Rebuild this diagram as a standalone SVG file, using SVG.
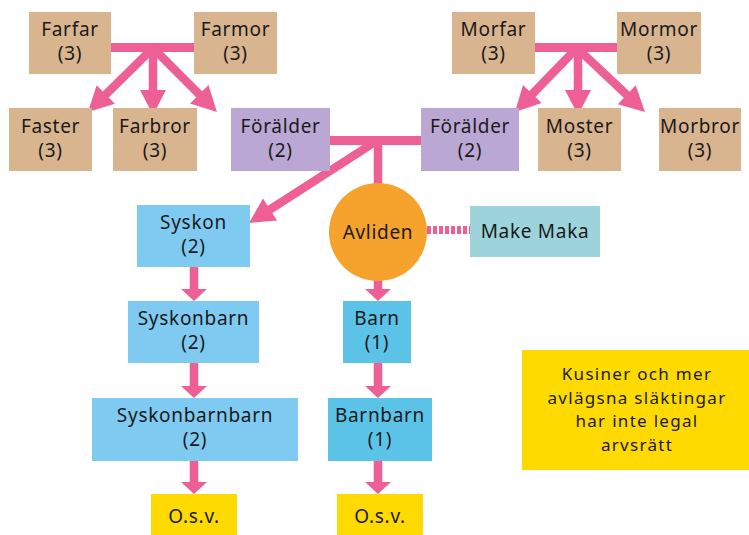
<svg xmlns="http://www.w3.org/2000/svg" width="749" height="535" viewBox="0 0 749 535">
<defs>
<style>
text{font-family:"Noto Sans","Liberation Sans",sans-serif;font-size:19px;letter-spacing:0.7px;fill:#1a1a1a;text-anchor:middle}
.note text{font-size:17px;letter-spacing:1.3px}
.tan{fill:#D8B48F}
.pur{fill:#BBA7D3}
.blu{fill:#7ECAF1}
.blu2{fill:#5CC3E8}
.tea{fill:#9DD4DB}
.yel{fill:#FFDA00}
.ora{fill:#F5A32C}
.bar{fill:#EE5F96}
.c line{stroke:#EE5F96;stroke-width:8.5;fill:none}
.c line.big{marker-end:url(#big)}
.c line.sm{marker-end:url(#sm)}
.dash{stroke:#EE5F96;stroke-width:8;stroke-dasharray:4 2;fill:none}
</style>
<marker id="big" markerUnits="userSpaceOnUse" markerWidth="26" markerHeight="26" refX="15" refY="13" orient="auto" overflow="visible">
<path d="M0,0 L25,13 L0,26 z" fill="#EE5F96"/>
</marker>
<marker id="sm" markerUnits="userSpaceOnUse" markerWidth="13" markerHeight="26" refX="2" refY="13" orient="auto" overflow="visible">
<path d="M0,0 L12,13 L0,26 z" fill="#EE5F96"/>
</marker>
</defs>
<rect width="749" height="535" fill="#ffffff"/>

<g id="connectors" class="c">
<rect class="bar" x="111" y="43" width="83" height="9"/>
<rect class="bar" x="535" y="43" width="82" height="9"/>
<rect class="bar" x="330" y="136" width="91" height="9"/>
<line class="big" x1="153" y1="48" x2="95.1" y2="105"/>
<line class="big" x1="153" y1="48" x2="153" y2="105"/>
<line class="big" x1="153" y1="48" x2="209.9" y2="104.9"/>
<line class="big" x1="577" y1="48" x2="521.9" y2="104.8"/>
<line class="big" x1="578" y1="48" x2="578" y2="105"/>
<line class="big" x1="577" y1="48" x2="637.7" y2="105.1"/>
<line x1="378" y1="140" x2="378" y2="186"/>
<line class="big" x1="378" y1="140" x2="257.4" y2="217.6"/>
<line class="sm" x1="194" y1="267" x2="194" y2="291"/>
<line class="sm" x1="194" y1="363" x2="194" y2="388"/>
<line class="sm" x1="194" y1="461" x2="194" y2="484"/>
<line class="sm" x1="378" y1="278" x2="378" y2="291"/>
<line class="sm" x1="378" y1="363" x2="378" y2="388"/>
<line class="sm" x1="378" y1="461" x2="378" y2="484"/>
<path class="dash" d="M427,230 H470"/>
</g>

<g id="farfar"><rect class="tan" x="29" y="12" width="82" height="62"/><text x="70" y="36">Farfar</text><text x="70" y="60">(3)</text></g>
<g id="farmor"><rect class="tan" x="194" y="12" width="83" height="62"/><text x="235.5" y="36">Farmor</text><text x="235.5" y="60">(3)</text></g>
<g id="morfar"><rect class="tan" x="452" y="12" width="83" height="62"/><text x="493.5" y="36">Morfar</text><text x="493.5" y="60">(3)</text></g>
<g id="mormor"><rect class="tan" x="617" y="12" width="84" height="62"/><text x="659" y="36">Mormor</text><text x="659" y="60">(3)</text></g>

<g id="faster"><rect class="tan" x="9" y="108" width="83" height="63"/><text x="50.5" y="133">Faster</text><text x="50.5" y="157">(3)</text></g>
<g id="farbror"><rect class="tan" x="113" y="108" width="84" height="63"/><text x="155" y="133">Farbror</text><text x="155" y="157">(3)</text></g>
<g id="foralder1"><rect class="pur" x="231" y="108" width="99" height="63"/><text x="280.5" y="133">Förälder</text><text x="280.5" y="157">(2)</text></g>
<g id="foralder2"><rect class="pur" x="421" y="108" width="98" height="63"/><text x="470" y="133">Förälder</text><text x="470" y="157">(2)</text></g>
<g id="moster"><rect class="tan" x="538" y="108" width="83" height="63"/><text x="579.5" y="133">Moster</text><text x="579.5" y="157">(3)</text></g>
<g id="morbror"><rect class="tan" x="659" y="108" width="82" height="63"/><text x="700" y="133">Morbror</text><text x="700" y="157">(3)</text></g>

<g id="syskon"><rect class="blu" x="137" y="205" width="113" height="62"/><text x="193.5" y="229">Syskon</text><text x="193.5" y="253">(2)</text></g>
<g id="avliden"><circle class="ora" cx="378" cy="232" r="49"/><text x="378" y="239">Avliden</text></g>
<g id="makemaka"><rect class="tea" x="470" y="206" width="130" height="51"/><text x="535" y="238">Make Maka</text></g>

<g id="syskonbarn"><rect class="blu" x="128" y="301" width="131" height="62"/><text x="193.5" y="325">Syskonbarn</text><text x="193.5" y="349">(2)</text></g>
<g id="barn"><rect class="blu2" x="343" y="301" width="68" height="62"/><text x="377" y="325">Barn</text><text x="377" y="349">(1)</text></g>

<g id="syskonbarnbarn"><rect class="blu" x="92" y="398" width="206" height="63"/><text x="195" y="422">Syskonbarnbarn</text><text x="195" y="446">(2)</text></g>
<g id="barnbarn"><rect class="blu2" x="328" y="398" width="104" height="63"/><text x="380" y="422">Barnbarn</text><text x="380" y="446">(1)</text></g>

<g id="osv1"><rect class="yel" x="151" y="494" width="86" height="41"/><text x="194" y="523">O.s.v.</text></g>
<g id="osv2"><rect class="yel" x="337" y="494" width="86" height="41"/><text x="380" y="523">O.s.v.</text></g>

<g id="kusiner" class="note"><rect class="yel" x="522" y="350" width="227" height="120"/>
<text x="637" y="380">Kusiner och mer</text>
<text x="637" y="403.7">avlägsna släktingar</text>
<text x="637" y="427.4">har inte legal</text>
<text x="637" y="451.1">arvsrätt</text>
</g>
</svg>
